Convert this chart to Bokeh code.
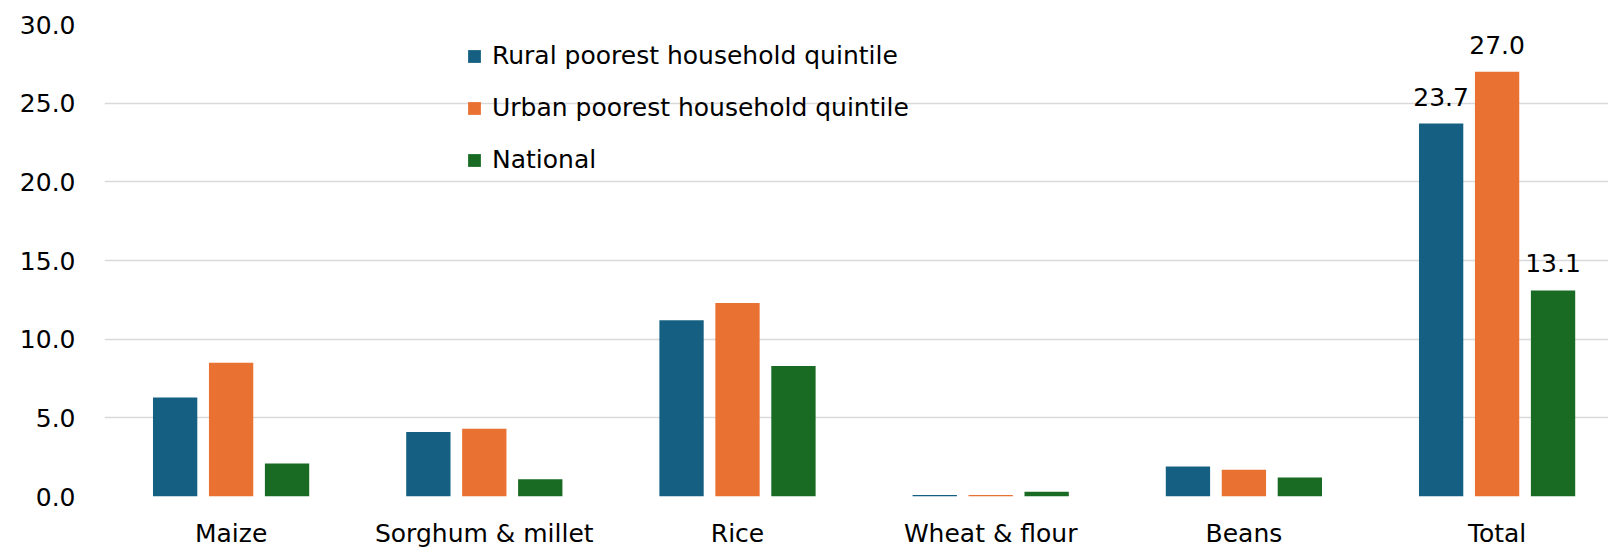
from bokeh.plotting import figure
from bokeh.models import ColumnDataSource, Range1d, FixedTicker, Legend, LegendItem
from bokeh.embed import file_html
from bokeh.resources import INLINE
from bokeh.core.properties import value

categories = ["Maize", "Sorghum & millet", "Rice", "Wheat & flour", "Beans", "Total"]
series_names = ["Rural poorest household quintile", "Urban poorest household quintile", "National"]
rural = [6.3, 4.1, 11.2, 0.1, 1.9, 23.7]
urban = [8.5, 4.3, 12.3, 0.1, 1.7, 27.0]
national = [2.1, 1.1, 8.3, 0.3, 1.2, 13.1]
colors = ["#156082", "#E97132", "#196B24"]
y_ticks = [0, 5, 10, 15, 20, 25, 30]

FONT = "DejaVu Sans"
FS = "25px"

p = figure(frame_width=1504, frame_height=472, output_backend="svg", toolbar_location=None,
           x_range=Range1d(0, 5.94), y_range=Range1d(0, 30),
           min_border_left=104, min_border_right=0, min_border_top=24, min_border_bottom=52)
p.outline_line_color = None
p.background_fill_color = "white"

centers = [i + 0.5 for i in range(len(categories))]
offsets = [-0.221, 0.0, 0.221]
renderers = []
for vals, off, col in zip([rural, urban, national], offsets, colors):
    src = ColumnDataSource(dict(x=[c + off for c in centers], top=vals))
    r = p.vbar(x="x", top="top", width=0.175, bottom=0, source=src,
               fill_color=col, line_color=None)
    renderers.append(r)
    # label only the Total group
    lsrc = ColumnDataSource(dict(x=[centers[-1] + off], top=[vals[-1]], lab=["%.1f" % vals[-1]]))
    p.text(x="x", y="top", text="lab", source=lsrc, text_align="center",
           text_baseline="alphabetic", y_offset=-27, text_font=value(FONT),
           text_font_size=value(FS), text_color="#000000")

p.xaxis.ticker = FixedTicker(ticks=centers)
p.xaxis.major_label_overrides = {c: n for c, n in zip(centers, categories)}
p.yaxis.ticker = FixedTicker(ticks=y_ticks)
p.yaxis.major_label_overrides = {t: "%.1f" % t for t in y_ticks}
for ax in (p.xaxis[0], p.yaxis[0]):
    ax.axis_line_color = None
    ax.major_tick_line_color = None
    ax.minor_tick_line_color = None
    ax.major_tick_out = 0
    ax.major_tick_in = 0
    ax.major_label_text_font = FONT
    ax.major_label_text_font_size = FS
    ax.major_label_text_color = "#000000"
p.yaxis.major_label_standoff = 29
p.xaxis.major_label_standoff = 22
p.xgrid.grid_line_color = None
p.ygrid.ticker = FixedTicker(ticks=y_ticks)
p.ygrid.grid_line_color = "#D9D9D9"
p.ygrid.grid_line_width = 1.5

legend = Legend(items=[LegendItem(label=n, renderers=[r]) for n, r in zip(series_names, renderers)],
                location=(362, 322), orientation="vertical")
legend.glyph_width = 16
legend.glyph_height = 16
legend.label_standoff = 10
legend.spacing = 23
legend.padding = 0
legend.margin = 0
legend.border_line_color = None
legend.background_fill_alpha = 0
legend.label_text_font = FONT
legend.label_text_font_size = FS
legend.label_text_color = "#000000"
p.add_layout(legend, "center")

open("out.html", "w").write(file_html(p, INLINE))
